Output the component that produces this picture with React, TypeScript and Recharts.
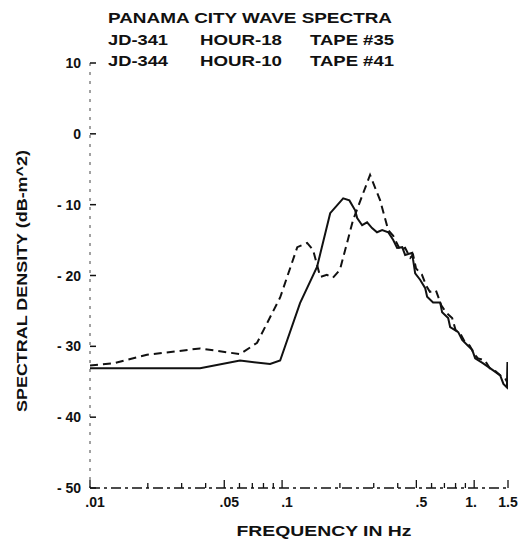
import { LineChart, Line, XAxis, YAxis } from 'recharts'

// JD-341 (solid) and JD-344 (dashed), frequency in Hz / density in dB
const solidFreq = [
  0.01, 0.0374, 0.0604, 0.0866, 0.0977, 0.124, 0.152, 0.178, 0.208, 0.224, 0.24, 0.246, 0.261,
  0.277, 0.294, 0.312, 0.332, 0.357, 0.379, 0.397, 0.422, 0.437, 0.476, 0.481, 0.493, 0.523,
  0.556, 0.569, 0.611, 0.665, 0.681, 0.732, 0.75, 0.826, 0.866, 0.92, 0.977, 1.012, 1.114,
  1.183, 1.256, 1.366, 1.42, 1.48, 1.49, 1.5,
]
const solidDb = [
  -33.1, -33.1, -32.0, -32.5, -32.0, -23.9, -18.8, -11.2, -9.1, -9.4, -10.8, -11.9, -12.9,
  -12.5, -13.3, -13.9, -13.6, -13.9, -15.0, -16.1, -16.0, -17.1, -16.8, -17.8, -19.7, -20.6,
  -21.8, -23.0, -23.8, -23.8, -25.2, -26.0, -27.3, -28.0, -29.1, -29.8, -30.5, -31.7, -32.4,
  -32.9, -33.4, -34.1, -35.3, -35.8, -32.2, -36.0,
]

const dashedFreq = [
  0.01, 0.0132, 0.0198, 0.0374, 0.0604, 0.0741, 0.0977, 0.12, 0.135, 0.145, 0.158, 0.171,
  0.184, 0.2, 0.234, 0.287, 0.324, 0.357, 0.379, 0.412, 0.437, 0.465, 0.481, 0.498, 0.535,
  0.562, 0.588, 0.632, 0.674, 0.713, 0.768, 0.8, 0.843, 0.894, 0.948, 1.0, 1.047, 1.137,
  1.206, 1.29, 1.383, 1.45, 1.5,
]
const dashedDb = [
  -32.7, -32.4, -31.2, -30.3, -31.1, -29.5, -23.1, -16.0, -15.4, -16.4, -20.2, -19.9,
  -20.3, -19.2, -12.2, -5.8, -9.4, -13.6, -14.4, -16.4, -16.1, -17.5, -17.1, -19.0, -19.9,
  -21.4, -22.3, -22.1, -24.2, -25.2, -26.0, -27.7, -28.1, -29.4, -29.9, -31.1, -31.7, -32.0,
  -33.1, -33.5, -34.2, -34.5, -35.3,
]

const xTicks = [
  0.01, 0.02, 0.03, 0.04, 0.05, 0.06, 0.07, 0.08, 0.09, 0.1, 0.2, 0.3, 0.4, 0.5, 0.6, 0.7, 0.8,
  0.9, 1, 1.5,
]
const xLabels: Record<string, string> = {
  '0.01': '.01',
  '0.05': '.05',
  '0.1': '.1',
  '0.5': '.5',
  '1': '1.',
  '1.5': '1.5',
}
const yTicks = [10, 0, -10, -20, -30, -40, -50]

const titleLines = [
  ['JD-341', 'HOUR-18', 'TAPE #35'],
  ['JD-344', 'HOUR-10', 'TAPE #41'],
]

const solidData = solidFreq.map((f, i) => ({ f, db: solidDb[i] }))
const dashedData = dashedFreq.map((f, i) => ({ f, db: dashedDb[i] }))

const font = '"Liberation Sans", Arial, sans-serif'
const ink = '#111'

function XTick(props: any) {
  const { x, y, payload } = props
  const label = xLabels[String(payload.value)]
  const dx = payload.value < 1 ? 5 : payload.value === 1 ? -3 : 0
  return (
    <g>
      <line x1={x} x2={x} y1={y} y2={y - (label ? 8 : 5)} stroke={ink} strokeWidth={1.3} />
      {label && (
        <text x={x + dx} y={y + 19} textAnchor="middle" fontFamily={font} fontWeight="bold" fontSize={14} fill={ink}>
          {label}
        </text>
      )}
    </g>
  )
}

function YTick(props: any) {
  const { x, y, payload } = props
  const v = payload.value as number
  return (
    <g>
      <line x1={x} x2={x + 6} y1={y} y2={y} stroke={ink} strokeWidth={1.5} />
      <text x={x - 9} y={y + 5} textAnchor="end" fontFamily={font} fontWeight="bold" fontSize={14} fill={ink}>
        {v < 0 ? `- ${-v}` : String(v)}
      </text>
    </g>
  )
}

export default function App() {
  return (
    <div style={{ position: 'absolute', left: 0, top: 0, width: 524, height: 540, background: '#fff' }}>
      <LineChart width={524} height={540} margin={{ top: 63, right: 16, bottom: 22, left: 0 }}>
        <XAxis
          type="number"
          dataKey="f"
          scale="log"
          domain={[0.01, 1.5]}
          ticks={xTicks}
          interval={0}
          allowDataOverflow
          height={30}
          tickSize={0}
          tickMargin={0}
          tick={XTick}
          axisLine={{ stroke: ink, strokeWidth: 1.4, strokeDasharray: '10 4 3 4' }}
        />
        <YAxis
          type="number"
          domain={[-50, 10]}
          ticks={yTicks}
          interval={0}
          width={90}
          tickSize={0}
          tickMargin={0}
          tick={YTick}
          axisLine={{ stroke: '#444', strokeWidth: 1, strokeDasharray: '3 6' }}
        />
        <Line
          data={solidData}
          dataKey="db"
          type="linear"
          stroke={ink}
          strokeWidth={2}
          dot={false}
          isAnimationActive={false}
        />
        <Line
          data={dashedData}
          dataKey="db"
          type="linear"
          stroke={ink}
          strokeWidth={2}
          strokeDasharray="8 5"
          dot={false}
          isAnimationActive={false}
        />
      </LineChart>

      <svg
        width={524}
        height={540}
        style={{ position: 'absolute', left: 0, top: 0, pointerEvents: 'none' }}
        fontFamily={font}
        fontWeight="bold"
        fill={ink}
      >
        <text x={108} y={23} fontSize={15} textLength={284} lengthAdjust="spacingAndGlyphs">
          PANAMA CITY WAVE SPECTRA
        </text>
        {titleLines.map((parts, i) => (
          <g key={i}>
            <text x={108} y={45 + i * 21} fontSize={15} textLength={60} lengthAdjust="spacingAndGlyphs">
              {parts[0]}
            </text>
            <text x={200} y={45 + i * 21} fontSize={15} textLength={82} lengthAdjust="spacingAndGlyphs">
              {parts[1]}
            </text>
            <text x={310} y={45 + i * 21} fontSize={15} textLength={84} lengthAdjust="spacingAndGlyphs">
              {parts[2]}
            </text>
          </g>
        ))}
        <text
          x={0}
          y={0}
          transform="translate(27,281) rotate(-90)"
          textAnchor="middle"
          fontSize={14}
          textLength={262}
          lengthAdjust="spacingAndGlyphs"
        >
          SPECTRAL DENSITY (dB-m^2)
        </text>
        <text x={324} y={536} textAnchor="middle" fontSize={15} textLength={175} lengthAdjust="spacingAndGlyphs">
          FREQUENCY IN Hz
        </text>
      </svg>
    </div>
  )
}
